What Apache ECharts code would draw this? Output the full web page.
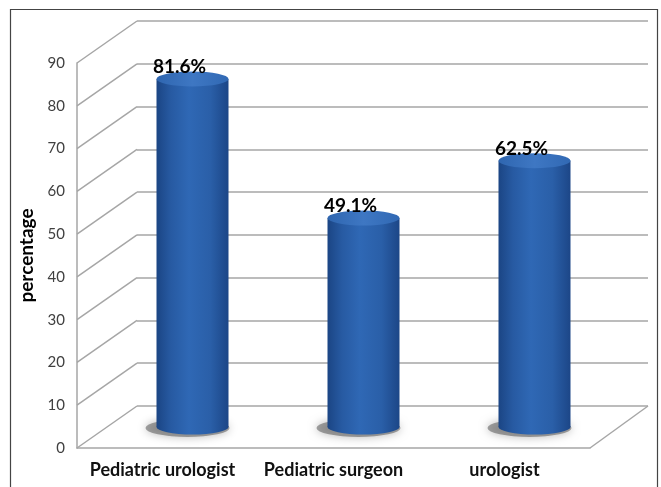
<!DOCTYPE html>
<html>
<head>
<meta charset="utf-8">
<script src="https://cdn.jsdelivr.net/npm/echarts@6/dist/echarts.min.js"></script>
<style>
html,body{margin:0;padding:0;background:#fff;}
#chart{width:661px;height:487px;}
</style>
</head>
<body>
<div id="chart"></div>
<script>
const categories = ['Pediatric urologist', 'Pediatric surgeon', 'urologist'];
const values = [81.6, 49.1, 62.5];
const yTicks = [0, 10, 20, 30, 40, 50, 60, 70, 80, 90];

const DX = 60, DY = -42;       // depth offset of back wall
const FONT = 'Lato, "Open Sans", sans-serif';

const chart = echarts.init(document.getElementById('chart'));

const bodyGrad = new echarts.graphic.LinearGradient(0, 0, 1, 0, [
  {offset: 0, color: '#1b4584'},
  {offset: 0.2, color: '#275aa2'},
  {offset: 0.45, color: '#2f68b5'},
  {offset: 0.75, color: '#2a5fa8'},
  {offset: 1, color: '#1c4687'}
]);
const topGrad = new echarts.graphic.LinearGradient(0, 0, 1, 0, [
  {offset: 0, color: '#2f66b0'},
  {offset: 0.5, color: '#3e77c3'},
  {offset: 1, color: '#3169b4'}
]);

chart.setOption({
  animation: false,
  graphic: [{
    type: 'rect', shape: {x: 10.5, y: 9.5, width: 647, height: 520},
    style: {fill: 'none', stroke: '#444', lineWidth: 1.2}, z: 100
  }],
  grid: [
    {left: 77, width: 513, top: 63, height: 385},
    {left: 77 + DX, width: 511, top: 63 + DY, height: 385}
  ],
  xAxis: [
    {type: 'category', gridIndex: 0, data: categories,
     axisLine: {show: true, lineStyle: {color: '#a6a6a6', width: 1.5}},
     axisTick: {show: false},
     axisLabel: {interval: 0, hideOverlap: false, fontFamily: FONT, fontWeight: 'bold', fontSize: 18, color: '#111', margin: 13}},
    {type: 'category', gridIndex: 1, data: categories,
     axisLine: {show: false}, axisTick: {show: false}, axisLabel: {show: false}}
  ],
  yAxis: [
    {type: 'value', gridIndex: 0, min: 0, max: 90, interval: 10,
     name: 'percentage', nameLocation: 'middle', nameGap: 40, nameRotate: 90,
     nameTextStyle: {fontFamily: FONT, fontWeight: 'bold', fontSize: 19, color: '#000'},
     axisLine: {show: true, lineStyle: {color: '#a6a6a6', width: 1.5}},
     axisTick: {show: false},
     splitLine: {show: false},
     axisLabel: {fontFamily: FONT, fontSize: 15, color: '#404040', margin: 12}},
    {type: 'value', gridIndex: 1, min: 0, max: 90, interval: 10,
     axisLine: {show: false}, axisTick: {show: false}, axisLabel: {show: false},
     splitLine: {show: true, lineStyle: {color: '#a6a6a6', width: 1.5}}}
  ],
  series: [
    {
      type: 'custom', xAxisIndex: 0, yAxisIndex: 0,
      data: yTicks.map(v => [0, v]),
      silent: true,
      renderItem: function (params, api) {
        const cs = params.coordSys;
        const y = api.coord([0, api.value(1)])[1];
        const children = [{
          type: 'line',
          shape: {x1: cs.x, y1: y, x2: cs.x + DX, y2: y + DY},
          style: {stroke: '#a6a6a6', lineWidth: 1.5}
        }];
        if (params.dataIndex === 0) {
          children.push({
            type: 'line',
            shape: {x1: cs.x + cs.width, y1: y, x2: cs.x + cs.width + DX - 2, y2: y + DY},
            style: {stroke: '#a6a6a6', lineWidth: 1.5}
          });
        }
        return {type: 'group', children: children};
      },
      z: 1
    },
    {
      type: 'custom', xAxisIndex: 0, yAxisIndex: 0,
      data: values.map((v, i) => [i, v]),
      renderItem: function (params, api) {
        const i = api.value(0), v = api.value(1);
        const top = api.coord([i, v]);
        const base = api.coord([i, 0]);
        const cx = top[0] + DX / 2;
        const topY = top[1] + DY / 2 + 1;
        const botY = base[1] + DY / 2;
        const rx = 36, ry = 7.5;
        return {
          type: 'group',
          children: [
            {type: 'circle', shape: {cx: 0, cy: 0, r: 42}, x: cx - 5, y: botY + 1, scaleY: 9 / 42,
             style: {fill: 'rgba(90,90,90,0.55)', shadowBlur: 10, shadowColor: 'rgba(0,0,0,0.5)'}},
            {type: 'circle', shape: {cx: 0, cy: 0, r: rx}, x: cx, y: botY, scaleY: ry / rx,
             style: {fill: bodyGrad}},
            {type: 'rect', shape: {x: cx - rx, y: topY, width: rx * 2, height: botY - topY},
             style: {fill: bodyGrad}},
            {type: 'circle', shape: {cx: 0, cy: 0, r: rx}, x: cx, y: topY, scaleY: ry / rx,
             style: {fill: topGrad}},
            {type: 'text', x: cx - 13, y: topY - 12,
             style: {text: v + '%', align: 'center', verticalAlign: 'middle',
                     fontFamily: FONT, fontWeight: 'bold', fontSize: 19, fill: '#000'}}
          ]
        };
      },
      z: 5
    }
  ]
});
</script>
</body>
</html>
